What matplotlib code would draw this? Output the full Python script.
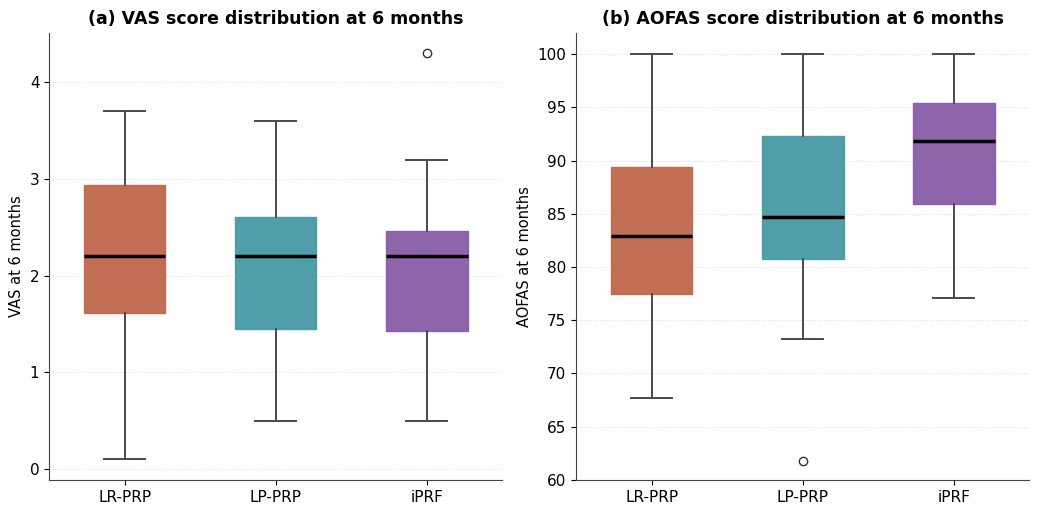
import matplotlib
matplotlib.use("Agg")
import matplotlib.pyplot as plt

groups = ["LR-PRP", "LP-PRP", "iPRF"]
colors = ["#c0694f", "#4a9ba6", "#8a5fa8"]

# VAS at 6 months: whisker low, Q1, median, Q3, whisker high
vas_low = [0.1, 0.5, 0.5]
vas_q1 = [1.61, 1.45, 1.43]
vas_med = [2.2, 2.2, 2.2]
vas_q3 = [2.94, 2.61, 2.46]
vas_high = [3.7, 3.6, 3.2]
vas_fliers = [[], [], [4.3]]

# AOFAS at 6 months
aofas_low = [67.7, 73.2, 77.1]
aofas_q1 = [77.5, 80.7, 85.9]
aofas_med = [82.9, 84.7, 91.8]
aofas_q3 = [89.4, 92.3, 95.4]
aofas_high = [100, 100, 100]
aofas_fliers = [[], [61.8], []]


def make_stats(low, q1, med, q3, high, fliers):
    stats = []
    for i in range(len(groups)):
        stats.append({"label": groups[i], "whislo": low[i], "q1": q1[i], "med": med[i],
                      "q3": q3[i], "whishi": high[i], "fliers": fliers[i]})
    return stats


def draw_box(ax, stats, title, ylabel):
    bp = ax.bxp(stats, positions=range(len(groups)), widths=0.54, patch_artist=True,
                showfliers=True,
                medianprops=dict(color="black", linewidth=2.5),
                whiskerprops=dict(color="#4a4a4a", linewidth=1.4),
                capprops=dict(color="#4a4a4a", linewidth=1.4),
                flierprops=dict(marker="o", markerfacecolor="none", markeredgecolor="#333333",
                                markersize=6))
    for patch, c in zip(bp["boxes"], colors):
        patch.set_facecolor(c)
        patch.set_edgecolor(c)
        patch.set_alpha(0.97)
        patch.set_linewidth(1.0)
    ax.set_xlim(-0.5, 2.5)
    ax.set_xticks(range(len(groups)))
    ax.set_xticklabels(groups, fontsize=11)
    ax.tick_params(axis="y", labelsize=11)
    ax.set_ylabel(ylabel, fontsize=10.5)
    ax.set_title(title, fontsize=12.5, fontweight="bold")
    ax.grid(axis="y", linestyle=":", color="#dddddd", linewidth=0.8)
    ax.set_axisbelow(True)
    ax.spines["top"].set_visible(False)
    ax.spines["right"].set_visible(False)
    for s in ["left", "bottom"]:
        ax.spines[s].set_color("#444444")


fig, (ax1, ax2) = plt.subplots(1, 2, figsize=(10.45, 5.29), dpi=100)
fig.subplots_adjust(left=0.047, right=0.985, top=0.938, bottom=0.093, wspace=0.163)

draw_box(ax1, make_stats(vas_low, vas_q1, vas_med, vas_q3, vas_high, vas_fliers),
         "(a) VAS score distribution at 6 months", "VAS at 6 months")
ax1.set_yticks([0, 1, 2, 3, 4])

draw_box(ax2, make_stats(aofas_low, aofas_q1, aofas_med, aofas_q3, aofas_high, aofas_fliers),
         "(b) AOFAS score distribution at 6 months", "AOFAS at 6 months")
ax2.set_ylim(60, 102)

fig.savefig("out.png", dpi=100)
